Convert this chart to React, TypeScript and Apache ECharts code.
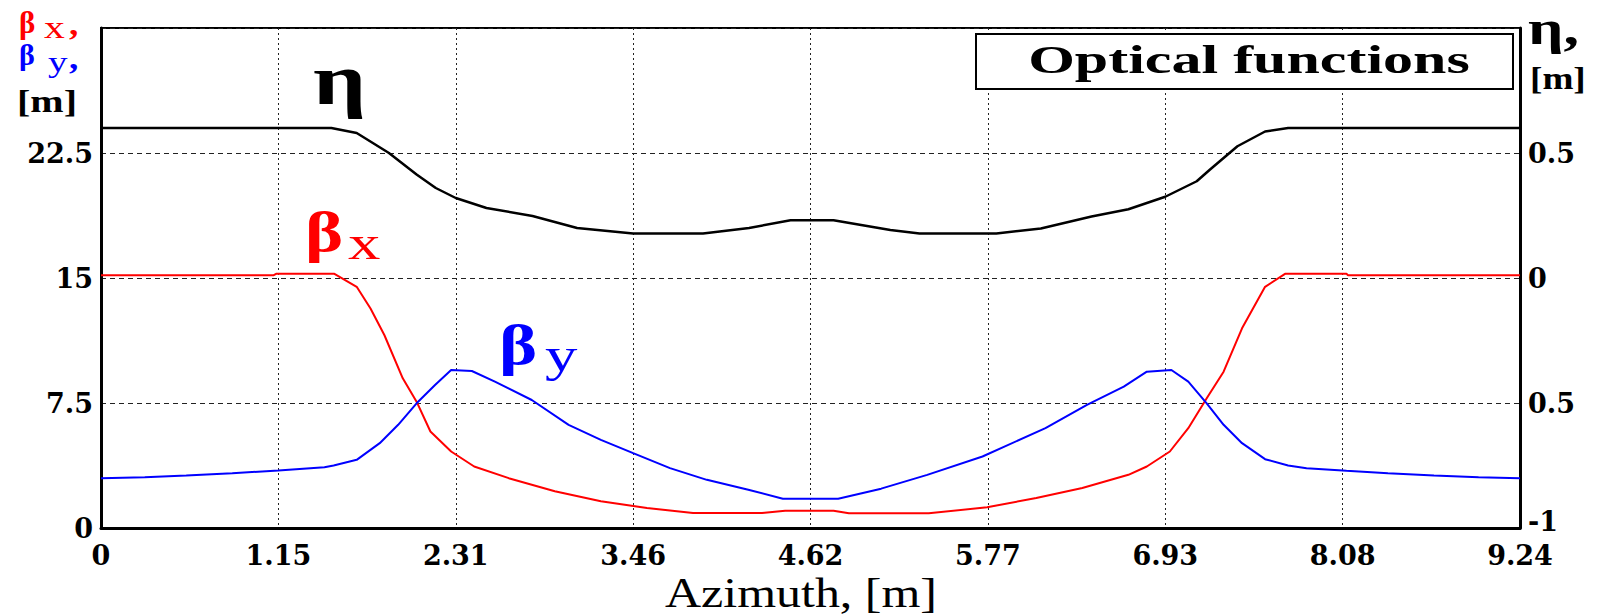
import React, { useEffect, useRef } from "react";
import * as echarts from "echarts";

// Azimuth positions [m] and values for each optical function
const etaS = [0, 1.5, 1.665, 1.875, 2.055, 2.18, 2.31, 2.51, 2.81, 3.1, 3.465, 3.92, 4.22, 4.49, 4.77, 5.14, 5.33, 5.83, 6.12, 6.45, 6.69, 6.93, 7.135, 7.22, 7.4, 7.58, 7.73, 9.24];
const etaV = [0.6, 0.6, 0.58, 0.5, 0.414, 0.36, 0.32, 0.28, 0.248, 0.2, 0.178, 0.178, 0.2, 0.231, 0.231, 0.192, 0.178, 0.178, 0.198, 0.246, 0.275, 0.325, 0.387, 0.433, 0.527, 0.586, 0.6, 0.6];

const betaXS = [0, 1.125, 1.14, 1.52, 1.665, 1.755, 1.845, 1.965, 2.055, 2.145, 2.28, 2.43, 2.655, 2.955, 3.255, 3.555, 3.855, 4.305, 4.455, 4.77, 4.87, 5.39, 5.77, 6.09, 6.39, 6.69, 6.81, 6.96, 7.08, 7.2, 7.31, 7.43, 7.58, 7.71, 8.11, 8.12, 9.24];
const betaXV = [15.17, 15.17, 15.25, 15.25, 14.47, 13.17, 11.58, 8.98, 7.58, 5.79, 4.59, 3.69, 2.99, 2.2, 1.6, 1.2, 0.9, 0.9, 1.04, 1.04, 0.88, 0.88, 1.24, 1.8, 2.4, 3.19, 3.69, 4.59, 5.99, 7.78, 9.38, 11.98, 14.47, 15.25, 15.25, 15.17, 15.17];

const betaYS = [0, 0.285, 0.555, 0.855, 1.155, 1.455, 1.515, 1.665, 1.815, 1.935, 2.055, 2.175, 2.28, 2.415, 2.565, 2.805, 3.045, 3.255, 3.465, 3.705, 3.945, 4.215, 4.44, 4.8, 5.08, 5.38, 5.74, 6.15, 6.42, 6.66, 6.81, 6.97, 7.08, 7.2, 7.31, 7.43, 7.58, 7.73, 7.85, 8.11, 8.38, 8.68, 8.97, 9.24];
const betaYV = [2.99, 3.05, 3.15, 3.29, 3.45, 3.65, 3.75, 4.09, 5.09, 6.19, 7.48, 8.58, 9.48, 9.42, 8.78, 7.68, 6.19, 5.29, 4.49, 3.59, 2.89, 2.3, 1.76, 1.76, 2.36, 3.19, 4.29, 5.99, 7.39, 8.48, 9.38, 9.48, 8.78, 7.48, 6.19, 5.09, 4.13, 3.75, 3.59, 3.43, 3.29, 3.15, 3.05, 2.99];

const xMin = 0;
const xMax = 9.24;
const xStep = 1.155;
const betaMin = 0;
const betaMax = 30;
const betaStep = 7.5;
const etaMin = -1;
const etaMax = 1;
const etaStep = 0.5;

const titleText = "Optical functions";
const xName = "Azimuth, [m]";

const pairs = (xs: number[], ys: number[]) => xs.map((x, i) => [x, ys[i]]);

const TICKFONT = "DejaVu Serif";

const txt = (
  text: string,
  x: number,
  y: number,
  size: number,
  weight: string,
  fill: string,
  align: string = "left",
  sx: number = 1
) => ({
  type: "text",
  x,
  y,
  scaleX: sx,
  z: 100,
  style: {
    text,
    font: `${weight} ${size}px 'Liberation Serif', serif`,
    lineHeight: Math.round(size * 0.8),
    fill,
    textAlign: align,
    textVerticalAlign: "middle",
  },
});

export default function App() {
  const ref = useRef<HTMLDivElement>(null);
  useEffect(() => {
    const chart = echarts.init(ref.current!, null, { renderer: "svg" });
    chart.setOption({
      animation: false,
      backgroundColor: "#ffffff",
      grid: {
        left: 101,
        right: 88,
        top: 28,
        bottom: 87,
        show: true,
        borderColor: "#000",
        borderWidth: 2,
        backgroundColor: "transparent",
      },
      xAxis: {
        type: "value",
        min: xMin,
        max: xMax,
        interval: xStep,
        axisLine: { onZero: false, lineStyle: { color: "#000", width: 3 } },
        axisTick: { show: false },
        axisLabel: {
          margin: 16,
          color: "#000",
          fontFamily: TICKFONT,
          fontWeight: "bold",
          fontSize: 27,
          lineHeight: 22,
          formatter: (v: number) => String(Math.floor(v * 100 + 1e-6) / 100),
        },
        splitLine: { show: true, lineStyle: { color: "#222", width: 1, type: [2, 3] } },
      },
      yAxis: [
        {
          type: "value",
          min: betaMin,
          max: betaMax,
          interval: betaStep,
          position: "left",
          axisLine: { show: true, lineStyle: { color: "#000", width: 3 } },
          axisTick: { show: false },
          axisLabel: {
            margin: 8,
            color: "#000",
            fontFamily: TICKFONT,
            fontWeight: "bold",
            fontSize: 27,
            lineHeight: 22,
            showMaxLabel: false,
          },
          splitLine: { show: true, lineStyle: { color: "#222", width: 1, type: [5, 4] } },
        },
        {
          type: "value",
          min: etaMin,
          max: etaMax,
          interval: etaStep,
          position: "right",
          axisLine: { show: true, lineStyle: { color: "#000", width: 3 } },
          axisTick: { show: false },
          axisLabel: {
            margin: 8,
            color: "#000",
            fontFamily: TICKFONT,
            fontWeight: "bold",
            fontSize: 27,
            lineHeight: 20,
            showMaxLabel: false,
            formatter: (v: number) =>
              v === -1 ? "{up|-1}" : v === -0.5 ? "0.5" : String(v),
            rich: {
              up: {
                fontFamily: TICKFONT,
                fontWeight: "bold",
                fontSize: 27,
                lineHeight: 20,
                color: "#000",
                padding: [0, 0, 14, 0],
              },
            },
          },
          splitLine: { show: false },
        },
      ],
      series: [
        {
          name: "η",
          type: "line",
          yAxisIndex: 1,
          data: pairs(etaS, etaV),
          showSymbol: false,
          symbol: "none",
          lineStyle: { color: "#000", width: 2.5 },
        },
        {
          name: "βx",
          type: "line",
          yAxisIndex: 0,
          data: pairs(betaXS, betaXV),
          showSymbol: false,
          symbol: "none",
          lineStyle: { color: "#ff0000", width: 2 },
        },
        {
          name: "βy",
          type: "line",
          yAxisIndex: 0,
          data: pairs(betaYS, betaYV),
          showSymbol: false,
          symbol: "none",
          lineStyle: { color: "#0000ff", width: 2 },
        },
      ],
      graphic: [
        {
          type: "rect",
          z: 90,
          shape: { x: 976, y: 34, width: 537, height: 55 },
          style: { fill: "#fff", stroke: "#000", lineWidth: 2 },
        },
        txt(titleText, 1249, 60, 40, "bold", "#000", "center", 1.5),
        // curve labels
        txt("η", 313, 80, 72, "bold", "#000", "left", 1.3),
        txt("β", 305, 231, 58, "bold", "#ff0000", "left", 1.25),
        txt("x", 348, 243, 48, "normal", "#ff0000", "left", 1.35),
        txt("β", 499, 344, 58, "bold", "#0000ff", "left", 1.25),
        txt("y", 545, 355, 48, "normal", "#0000ff", "left", 1.35),
        // left axis title
        txt("β", 19, 22, 31, "bold", "#ff0000", "left", 1.0),
        txt("x", 44, 27, 32, "normal", "#ff0000", "left", 1.3),
        txt(",", 69, 24, 31, "bold", "#ff0000", "left", 1.2),
        txt("β", 19, 54, 30, "bold", "#0000ff", "left", 1.0),
        txt("y", 48, 62, 30, "normal", "#0000ff", "left", 1.3),
        txt(",", 69, 58, 31, "bold", "#0000ff", "left", 1.2),
        txt("[m]", 17, 101, 32, "bold", "#000", "left", 1.25),
        // right axis title
        txt("η,", 1528, 28, 48, "bold", "#000", "left", 1.3),
        txt("[m]", 1530, 78, 31, "bold", "#000", "left", 1.2),
        // x axis title
        txt(xName, 801, 593, 42, "normal", "#000", "center", 1.19),
      ],
    });
    return () => chart.dispose();
  }, []);
  return (
    <div
      ref={ref}
      style={{ position: "absolute", left: 0, top: 0, width: 1608, height: 615, background: "#fff" }}
    />
  );
}
